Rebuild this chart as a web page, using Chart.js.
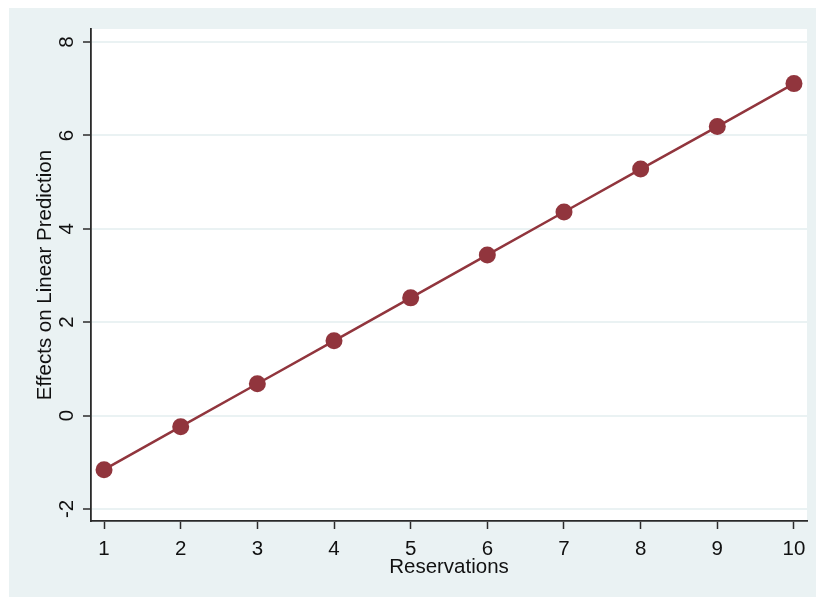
<!DOCTYPE html>
<html>
<head>
<meta charset="utf-8">
<script src="https://cdn.jsdelivr.net/npm/chart.js@4.4.1/dist/chart.umd.min.js"></script>
<style>
  html, body { margin: 0; padding: 0; background: #ffffff; }
  #wrap { width: 816px; height: 598px; }
</style>
</head>
<body>
<div id="wrap"><canvas id="chart" width="816" height="598"></canvas></div>
<script>
// Marginal effects of reservations on the linear prediction
const reservations = [1, 2, 3, 4, 5, 6, 7, 8, 9, 10];
const effects = [-1.16, -0.24, 0.68, 1.60, 2.52, 3.44, 4.36, 5.28, 6.19, 7.11];
const xTickValues = [1, 2, 3, 4, 5, 6, 7, 8, 9, 10];
const yTickValues = [-2, 0, 2, 4, 6, 8];
const xTitle = 'Reservations';
const yTitle = 'Effects on Linear Prediction';

const FONT = '20.5px "Liberation Sans", Arial, sans-serif';
const BG = '#EAF2F3';
const INK = '#111111';
const AXIS = '#2a2a2a';
const SERIES = '#91353D';

// Outer panel and white plot region
const panelPlugin = {
  id: 'panel',
  beforeDraw(chart) {
    const { ctx, chartArea: a } = chart;
    ctx.save();
    ctx.fillStyle = '#ffffff';
    ctx.fillRect(0, 0, chart.width, chart.height);
    ctx.fillStyle = BG;
    ctx.fillRect(9, 8, chart.width - 9, chart.height - 9);
    ctx.fillStyle = '#ffffff';
    ctx.fillRect(a.left, a.top, a.right - a.left, a.bottom - a.top);
    ctx.restore();
  }
};

// Tick labels (vertical on the y axis) and axis titles
const labelPlugin = {
  id: 'axisText',
  afterDraw(chart) {
    const { ctx, chartArea: a } = chart;
    const xs = chart.scales.x, ys = chart.scales.y;
    ctx.save();
    ctx.fillStyle = INK;
    ctx.font = FONT;
    ctx.textBaseline = 'alphabetic';
    ctx.textAlign = 'center';
    xTickValues.forEach(v => {
      ctx.fillText(String(v), xs.getPixelForValue(v), a.bottom + 34);
    });
    ctx.fillText(xTitle, (a.left + a.right) / 2, a.bottom + 52);
    yTickValues.forEach(v => {
      ctx.save();
      ctx.translate(a.left - 18.5, ys.getPixelForValue(v));
      ctx.rotate(-Math.PI / 2);
      ctx.fillText(String(v), 0, 0);
      ctx.restore();
    });
    ctx.save();
    ctx.translate(a.left - 40.5, (a.top + a.bottom) / 2);
    ctx.rotate(-Math.PI / 2);
    ctx.fillText(yTitle, 0, 0);
    ctx.restore();
    ctx.restore();
  }
};

new Chart(document.getElementById('chart'), {
  type: 'line',
  data: {
    datasets: [{
      data: reservations.map((r, i) => ({ x: r, y: effects[i] })),
      borderColor: SERIES,
      borderWidth: 2.5,
      backgroundColor: SERIES,
      pointBackgroundColor: SERIES,
      pointBorderColor: SERIES,
      pointBorderWidth: 0,
      pointRadius: 8.5,
      pointHoverRadius: 8.5,
      tension: 0,
      fill: false
    }]
  },
  options: {
    responsive: false,
    devicePixelRatio: 1,
    animation: false,
    events: [],
    layout: { padding: { left: 9, top: 29, right: 9, bottom: 0 } },
    plugins: { legend: { display: false }, tooltip: { enabled: false } },
    scales: {
      x: {
        type: 'linear',
        min: 0.83,
        max: 10.17,
        afterBuildTicks: s => { s.ticks = xTickValues.map(v => ({ value: v })); },
        afterFit: s => { s.height = 77; },
        ticks: { display: false },
        grid: {
          drawOnChartArea: false,
          drawTicks: true,
          tickLength: 8,
          tickColor: AXIS,
          tickWidth: 1.5
        },
        border: { display: true, color: AXIS, width: 1.8 }
      },
      y: {
        type: 'linear',
        min: -2.26,
        max: 8.28,
        afterBuildTicks: s => { s.ticks = yTickValues.map(v => ({ value: v })); },
        afterFit: s => { s.width = 82; },
        ticks: { display: false },
        grid: {
          color: BG,
          lineWidth: 2,
          drawTicks: true,
          tickLength: 8,
          tickColor: AXIS,
          tickWidth: 1.5
        },
        border: { display: true, color: AXIS, width: 1.8 }
      }
    }
  },
  plugins: [panelPlugin, labelPlugin]
});
</script>
</body>
</html>
